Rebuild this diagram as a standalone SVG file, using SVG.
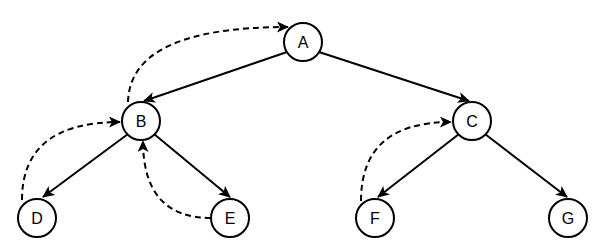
<svg xmlns="http://www.w3.org/2000/svg" width="600" height="249" viewBox="0 0 600 249">
<style>
.node circle{fill:#fff;stroke:#000;stroke-width:2}
.node text{font-family:"Liberation Sans",Arial,sans-serif;font-size:16px;fill:#000;text-anchor:middle;dominant-baseline:central}
.edge{fill:none;stroke:#000;stroke-width:2}
.dash{stroke-dasharray:6,4}
</style>
<defs>
<marker id="arr" markerUnits="userSpaceOnUse" markerWidth="12" markerHeight="11" viewBox="0 0 12 11" refX="11" refY="5.5" orient="auto">
<path d="M0,0 L12,5.5 L0,11 L3,5.5 Z" fill="#000"/>
</marker>
</defs>
<rect width="600" height="249" fill="#fff"/>
<g id="connectors">
<line class="edge" x1="287" y1="52" x2="144" y2="101" marker-end="url(#arr)"/>
<line class="edge" x1="319" y1="52" x2="469" y2="101" marker-end="url(#arr)"/>
<line class="edge" x1="128" y1="134" x2="43" y2="197" marker-end="url(#arr)"/>
<line class="edge" x1="154" y1="134" x2="230" y2="197" marker-end="url(#arr)"/>
<line class="edge" x1="459" y1="134" x2="378" y2="197" marker-end="url(#arr)"/>
<line class="edge" x1="485" y1="134" x2="567" y2="197" marker-end="url(#arr)"/>
<path class="edge dash" d="M128,102 Q130,27 288,27" marker-end="url(#arr)"/>
<path class="edge dash" d="M22,200 Q22,122 120,122" marker-end="url(#arr)"/>
<path class="edge dash" d="M211,218 Q143,218 143,141" marker-end="url(#arr)"/>
<path class="edge dash" d="M361,201 Q361,122 451,122" marker-end="url(#arr)"/>
</g>
<g id="node-A" class="node"><circle cx="303" cy="42" r="19"/><text x="303" y="42">A</text></g>
<g id="node-B" class="node"><circle cx="141" cy="121" r="19"/><text x="141" y="121">B</text></g>
<g id="node-C" class="node"><circle cx="472" cy="121" r="19"/><text x="472" y="121">C</text></g>
<g id="node-D" class="node"><circle cx="37" cy="218" r="19"/><text x="37" y="218">D</text></g>
<g id="node-E" class="node"><circle cx="230" cy="218" r="19"/><text x="230" y="218">E</text></g>
<g id="node-F" class="node"><circle cx="375" cy="218" r="19"/><text x="375" y="218">F</text></g>
<g id="node-G" class="node"><circle cx="568" cy="218" r="19"/><text x="568" y="218">G</text></g>
</svg>
